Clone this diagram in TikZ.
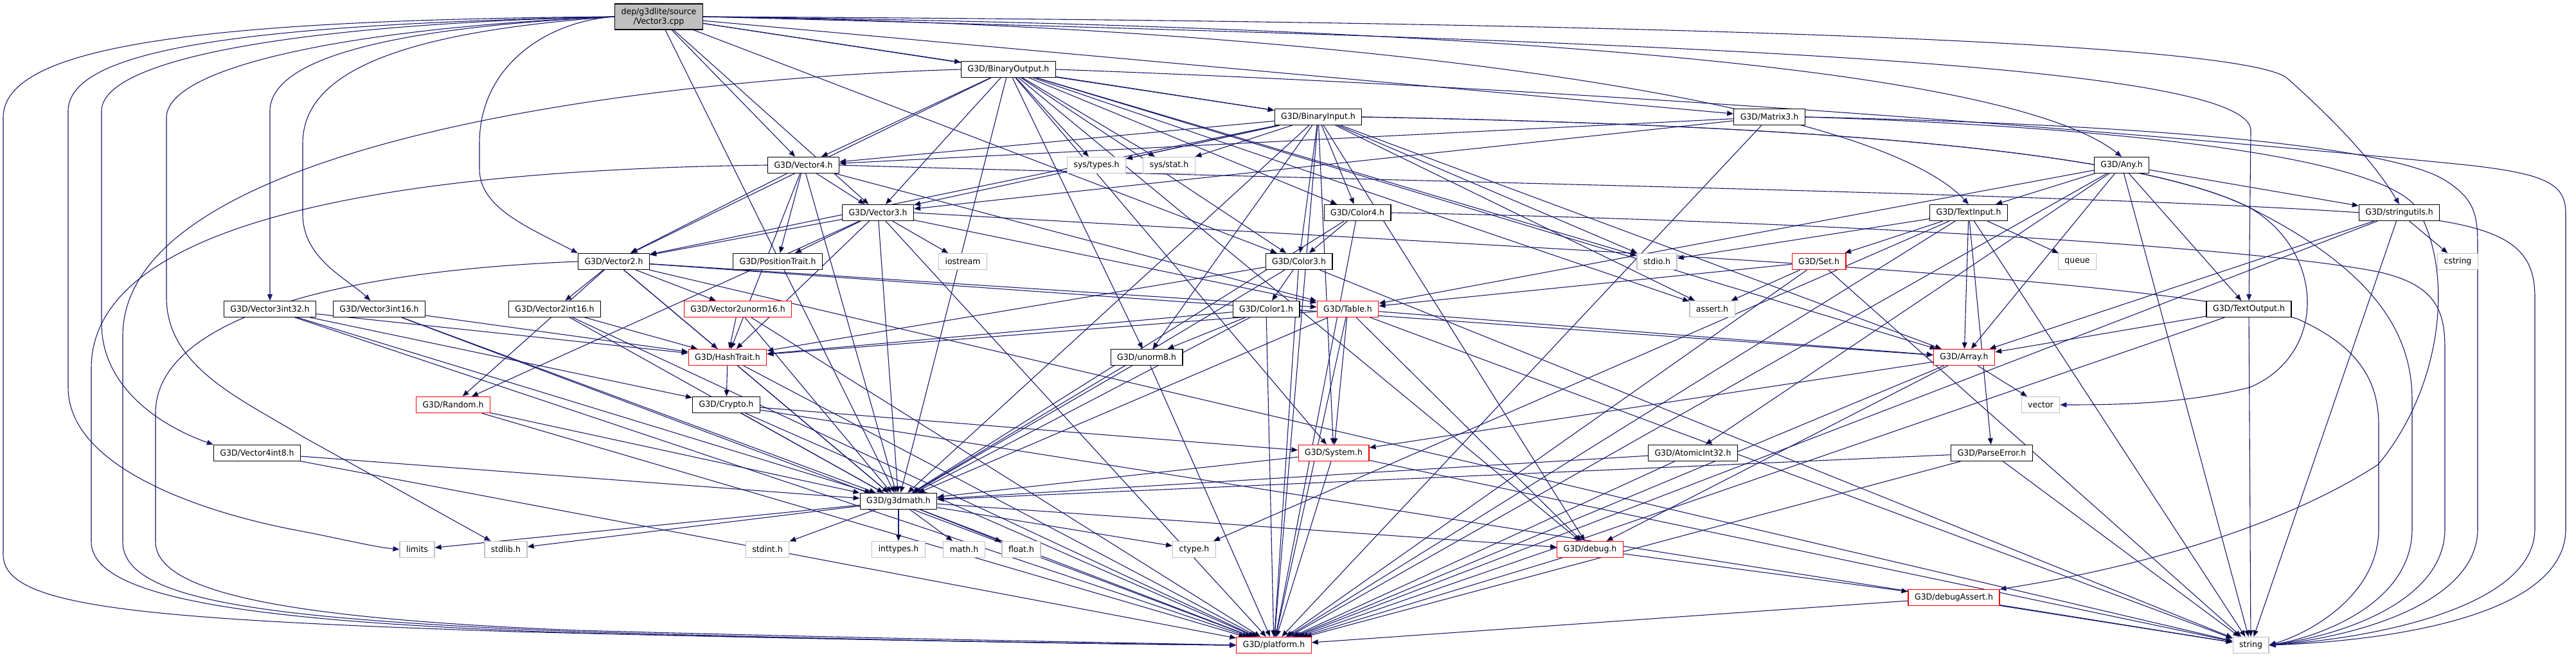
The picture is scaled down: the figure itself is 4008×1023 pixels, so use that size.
\documentclass[tikz,border=0pt]{standalone}
\usepackage{fontspec}
\setmainfont{DejaVu Sans}[FakeStretch=0.96]
\usetikzlibrary{arrows.meta, backgrounds}
\definecolor{edgeBlue}{HTML}{191970}
\definecolor{frameGray}{HTML}{BFBFBF}
\definecolor{rootGray}{HTML}{BFBFBF}

\begin{document}
\begin{tikzpicture}[
  x=1pt, y=1pt,
  font=\fontsize{13}{15}\selectfont,
  hdr/.style={draw=black, line width=1.2pt, fill=white, inner xsep=10pt, inner ysep=0pt,
           minimum height=25pt},
  bad/.style={hdr, draw=red},
  sys/.style={hdr, draw=frameGray},
  src/.style={hdr, fill=rootGray, align=center, minimum height=40pt},
  inc/.style={draw=edgeBlue, line width=1.1pt, -{Triangle[length=10pt, width=8pt]}}
]
  \useasboundingbox (0,0) rectangle (4008,1023);

  \node[src] (root) at (1025,997) {dep/g3dlite/source\\/Vector3.cpp};
  \node[hdr] (binout) at (1569,915) {G3D/BinaryOutput.h};
  \node[hdr] (binin) at (2051,841) {G3D/BinaryInput.h};
  \node[hdr] (mat3) at (2753,841) {G3D/Matrix3.h};
  \node[hdr] (vec4) at (1250,766) {G3D/Vector4.h};
  \node[sys] (systypes) at (1706,766) {sys/types.h};
  \node[sys] (sysstat) at (1819,766) {sys/stat.h};
  \node[hdr] (any) at (3301,766) {G3D/Any.h};
  \node[hdr] (vec3) at (1366,692) {G3D/Vector3.h};
  \node[hdr] (col4) at (2112,692) {G3D/Color4.h};
  \node[hdr] (txtin) at (3063,692) {G3D/TextInput.h};
  \node[hdr] (strutil) at (3733,692) {G3D/stringutils.h};
  \node[hdr] (vec2) at (955,616) {G3D/Vector2.h};
  \node[hdr] (postrait) at (1210,616) {G3D/PositionTrait.h};
  \node[sys] (iostream) at (1498,616) {iostream};
  \node[hdr] (col3) at (2021,616) {G3D/Color3.h};
  \node[sys] (stdioh) at (2578,616) {stdio.h};
  \node[bad] (set) at (2830,616) {G3D/Set.h};
  \node[sys] (queue) at (3232,616) {queue};
  \node[sys] (cstring) at (3824,616) {cstring};
  \node[hdr] (v3i32) at (420,542) {G3D/Vector3int32.h};
  \node[hdr] (v3i16) at (590,542) {G3D/Vector3int16.h};
  \node[hdr] (v2i16) at (863,542) {G3D/Vector2int16.h};
  \node[bad] (v2un16) at (1148,542) {G3D/Vector2unorm16.h};
  \node[hdr] (col1) at (1970,542) {G3D/Color1.h};
  \node[bad] (table) at (2097,542) {G3D/Table.h};
  \node[sys] (asserth) at (2664,542) {assert.h};
  \node[hdr] (txtout) at (3499,542) {G3D/TextOutput.h};
  \node[bad] (hash) at (1132,467) {G3D/HashTrait.h};
  \node[hdr] (unorm8) at (1784,467) {G3D/unorm8.h};
  \node[bad] (array) at (3056,467) {G3D/Array.h};
  \node[bad] (random) at (705,393) {G3D/Random.h};
  \node[hdr] (crypto) at (1130,393) {G3D/Crypto.h};
  \node[sys] (vector) at (3175,393) {vector};
  \node[hdr] (v4i8) at (400,318) {G3D/Vector4int8.h};
  \node[bad] (system) at (2075,318) {G3D/System.h};
  \node[hdr] (atomic) at (2634,318) {G3D/AtomicInt32.h};
  \node[hdr] (parse) at (3099,318) {G3D/ParseError.h};
  \node[hdr] (g3dmath) at (1398,243) {G3D/g3dmath.h};
  \node[sys] (limits) at (649,168) {limits};
  \node[sys] (stdlibh) at (787,168) {stdlib.h};
  \node[sys] (stdint) at (1194,168) {stdint.h};
  \node[sys] (inttypes) at (1398,168) {inttypes.h};
  \node[sys] (mathh) at (1500,168) {math.h};
  \node[sys] (floath) at (1589,168) {float.h};
  \node[sys] (ctype) at (1858,168) {ctype.h};
  \node[bad] (debug) at (2474,168) {G3D/debug.h};
  \node[bad] (dbgassert) at (3040,93) {G3D/debugAssert.h};
  \node[bad] (platform) at (1982,19) {G3D/platform.h};
  \node[sys] (string) at (3502,19) {string};

  \begin{scope}[on background layer]
    \path[inc] (root) edge (binout) edge (binin) edge (mat3) edge (vec4) edge (vec3)
      edge (g3dmath) edge (col3);
    \draw[inc] (root.east) .. controls (2500,980) and (3150,900) .. (any.north);
    \draw[inc] (root.east) .. controls (2000,985) and (2900,880) .. (txtin.north);
    \draw[inc] (root.east) .. controls (2500,990) and (3500,960) .. (3560,900)
      .. controls (3650,820) and (3700,760) .. (strutil.north);
    \draw[inc] (root.east) .. controls (2500,960) and (3500,930) .. (3502,820) -- (txtout);
    \draw[inc] (root.west) .. controls (300,992) and (5,950) .. (5,840) -- (5,160)
      .. controls (5,80) and (200,60) .. (800,40) .. controls (1400,25) and (1800,20) .. (platform.west);
    \draw[inc] (root.west) .. controls (400,985) and (106,950) .. (106,850) -- (106,420)
      .. controls (106,300) and (300,230) .. (450,200) .. controls (530,185) and (580,172) .. (limits.west);
    \draw[inc] (root.west) .. controls (450,985) and (158,930) .. (158,850) -- (158,520)
      .. controls (158,420) and (250,360) .. (v4i8.north west);
    \draw[inc] (root.west) .. controls (550,980) and (259,920) .. (259,840) -- (259,560)
      .. controls (259,450) and (380,400) .. (472,343) -- (stdlibh);
    \draw[inc] (root.west) .. controls (600,980) and (420,930) .. (420,850) -- (v3i32);
    \draw[inc] (root.west) .. controls (650,975) and (471,920) .. (471,800) -- (471,690)
      .. controls (471,620) and (540,590) .. (v3i16);
    \draw[inc] (root.west) .. controls (850,990) and (746,920) .. (746,800) -- (746,760)
      .. controls (746,700) and (820,670) .. (vec2.north west);

    \path[inc] (binout) edge (vec4) edge (vec3) edge (vec2) edge (systypes) edge (sysstat)
      edge (binin) edge (col4) edge (col3) edge (unorm8) edge (system) edge (g3dmath)
      edge (stdioh) edge (asserth) edge (debug) edge (array);
    \draw[inc] (binout.west) .. controls (1000,900) and (191,800) .. (191,500) -- (191,180)
      .. controls (191,90) and (400,60) .. (900,40) .. controls (1400,25) and (1800,20) .. (platform.west);
    \draw[inc] (binout.east) .. controls (2600,880) and (3500,800) .. (3800,770)
      .. controls (3960,755) and (3992,740) .. (3992,690) -- (3992,200)
      .. controls (3992,60) and (3700,25) .. (string.east);

    \path[inc] (binin) edge (vec4) edge (vec3) edge (vec2) edge (systypes) edge (sysstat)
      edge (col4) edge (col3) edge (unorm8) edge (array) edge (stdioh) edge (asserth)
      edge (g3dmath) edge (debug) edge (system) edge (platform);
    \draw[inc] (binin.east) .. controls (2700,830) and (3300,800) .. (3500,700)
      .. controls (3700,600) and (3753,500) .. (3753,400) -- (3753,200)
      .. controls (3753,80) and (3600,30) .. (string.east);
    \draw[inc] (binin.east) .. controls (2700,830) and (3300,800) .. (3500,700)
      .. controls (3620,630) and (3620,470) .. (3500,420) .. controls (3400,395) and (3300,393) .. (vector.east);

    \path[inc] (mat3) edge (vec3) edge (vec4) edge (platform);
    \draw[inc] (mat3.east) .. controls (3300,830) and (3700,800) .. (3800,745)
      .. controls (3850,715) and (3855,690) .. (3855,640) -- (3855,200)
      .. controls (3855,80) and (3650,30) .. (string.east);
    \draw[inc] (mat3.east) .. controls (3300,825) and (3700,780) .. (3760,700)
      .. controls (3820,600) and (3800,420) .. (3700,300)
      .. controls (3500,170) and (3200,120) .. (dbgassert.north east);

    \path[inc] (any) edge (txtin) edge (strutil) edge (array) edge (table) edge (atomic)
      edge (txtout) edge (platform) edge (string);
    \path[inc] (txtin) edge (stdioh) edge (set) edge (queue) edge (array) edge (parse)
      edge (ctype) edge (platform) edge (string);
    \path[inc] (strutil) edge (array) edge (cstring) edge (platform) edge (string);
    \path[inc] (txtout) edge (array) edge (platform) edge (string);

    \path[inc] (vec4) edge (vec3) edge (vec2) edge (postrait) edge (hash) edge (table)
      edge (g3dmath);
    \draw[inc] (vec4.west) .. controls (700,760) and (142,700) .. (142,450) -- (142,180)
      .. controls (142,90) and (400,55) .. (900,38) .. controls (1400,25) and (1800,20) .. (platform.west);
    \draw[inc] (vec4.east) .. controls (2200,740) and (3300,720) .. (3700,690)
      .. controls (3900,675) and (3944,640) .. (3944,560) -- (3944,200)
      .. controls (3944,80) and (3700,30) .. (string.east);

    \path[inc] (vec3) edge (vec2) edge (postrait) edge (iostream) edge (hash) edge (table)
      edge (random) edge (g3dmath) edge (platform);
    \draw[inc] (vec3.east) .. controls (2300,640) and (3300,600) .. (3574,527)
      .. controls (3680,480) and (3701,420) .. (3701,360) -- (3701,200)
      .. controls (3701,100) and (3600,40) .. (string.east);

    \path[inc] (col4) edge (col3) edge (g3dmath) edge (platform);
    \draw[inc] (col4.east) .. controls (2800,680) and (3500,640) .. (3700,600)
      .. controls (3790,580) and (3804,540) .. (3804,480) -- (3804,200)
      .. controls (3804,90) and (3650,35) .. (string.east);
    \path[inc] (col3) edge (col1) edge (hash) edge (g3dmath) edge (platform) edge (string);
    \path[inc] (col1) edge (unorm8) edge (hash) edge (g3dmath) edge (platform);

    \path[inc] (vec2) edge (v2i16) edge (v2un16) edge (random) edge (hash) edge (table)
      edge (array) edge (g3dmath) edge (string);
    \draw[inc] (vec2.west) .. controls (500,600) and (242,520) .. (242,380) -- (242,180)
      .. controls (242,100) and (450,60) .. (900,42) .. controls (1400,28) and (1800,22) .. (platform.west);

    \path[inc] (v3i32) edge (hash) edge (crypto) edge (g3dmath) edge (platform);
    \path[inc] (v3i16) edge (hash) edge (g3dmath) edge (platform);
    \path[inc] (v2i16) edge (hash) edge (g3dmath) edge (platform);
    \path[inc] (v2un16) edge (hash) edge (g3dmath) edge (platform);
    \path[inc] (v4i8) edge (g3dmath) edge (platform);
    \path[inc] (hash) edge (crypto) edge (g3dmath) edge (platform);
    \path[inc] (crypto) edge (system) edge (g3dmath) edge (platform) edge (string);
    \path[inc] (random) edge (g3dmath) edge (platform);
    \path[inc] (unorm8) edge (g3dmath) edge (platform);
    \path[inc] (table) edge (hash) edge (array) edge (system) edge (debug) edge (g3dmath)
      edge (platform) edge (string);
    \path[inc] (set) edge (table) edge (asserth) edge (platform) edge (string);
    \path[inc] (array) edge (vector) edge (system) edge (debug) edge (platform);
    \path[inc] (system) edge (g3dmath) edge (platform) edge (string);
    \path[inc] (atomic) edge (g3dmath) edge (platform);
    \path[inc] (parse) edge (g3dmath) edge (platform) edge (string);
    \path[inc] (debug) edge (platform) edge (dbgassert);
    \path[inc] (dbgassert) edge (platform) edge (string);
    \path[inc] (g3dmath) edge (platform) edge (debug) edge (limits) edge (stdlibh)
      edge (stdint) edge (inttypes) edge (mathh) edge (floath) edge (ctype);
  \end{scope}
\end{tikzpicture}
\end{document}
